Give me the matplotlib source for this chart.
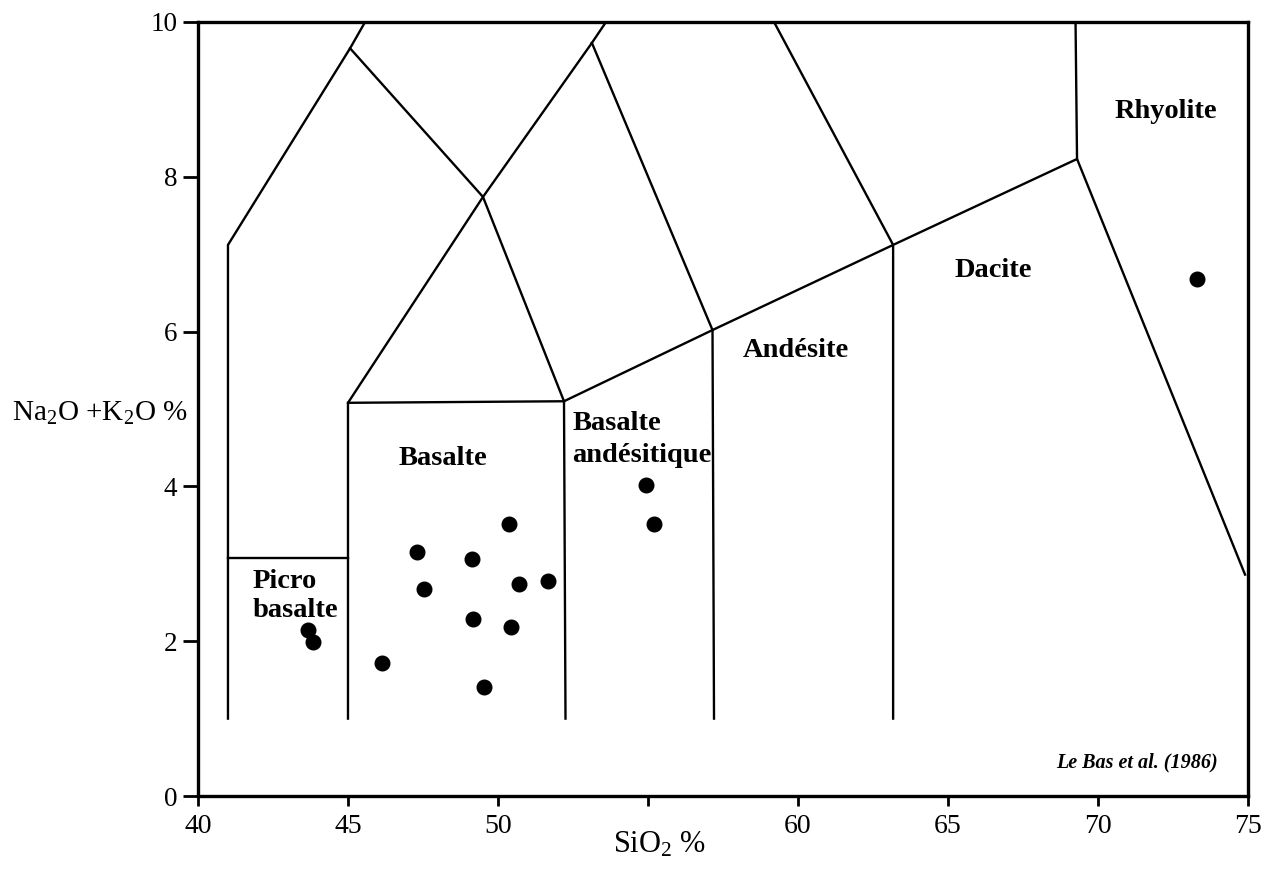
import matplotlib
matplotlib.use('Agg')
import matplotlib.pyplot as plt

plt.rcParams['font.family'] = ['Liberation Serif', 'DejaVu Serif']
plt.rcParams['mathtext.fontset'] = 'custom'
plt.rcParams['mathtext.rm'] = 'Liberation Serif'
plt.rcParams['mathtext.it'] = 'Liberation Serif:italic'

# Sample analyses (SiO2 %, Na2O + K2O %)
sio2 = [43.67, 43.83, 46.13, 47.30, 47.53, 49.13, 49.17, 49.53,
        50.37, 50.43, 50.70, 51.67, 54.93, 55.20, 73.30]
alkali = [2.14, 1.99, 1.72, 3.15, 2.67, 3.06, 2.29, 1.41,
          3.51, 2.18, 2.74, 2.78, 4.02, 3.51, 6.68]

# TAS field boundaries (Le Bas et al. 1986), as drawn in the figure
boundaries = [
    [(41.0, 1.0), (41.0, 7.12), (45.07, 9.66), (45.57, 10.0)],
    [(45.07, 9.66), (49.5, 7.74), (52.2, 5.1)],
    [(45.0, 1.0), (45.0, 5.08), (49.5, 7.74), (53.13, 9.73), (53.6, 10.0)],
    [(53.13, 9.73), (57.15, 6.02)],
    [(45.0, 5.08), (52.2, 5.1)],
    [(52.25, 1.0), (52.2, 5.1), (57.15, 6.02), (63.17, 7.12),
     (69.3, 8.23), (74.9, 2.86)],
    [(57.2, 1.0), (57.15, 6.02)],
    [(63.17, 1.0), (63.17, 7.12), (59.2, 10.0)],
    [(69.3, 8.23), (69.25, 10.0)],
    [(41.0, 3.08), (45.0, 3.08)],
]

# Field names: (text, x, y, horizontal alignment)
fields = [
    ('Rhyolite', 72.27, 8.76, 'center'),
    ('Dacite', 65.23, 6.70, 'left'),
    ('Andésite', 58.17, 5.67, 'left'),
    ('Basalte', 52.47, 4.73, 'left'),
    ('andésitique', 52.47, 4.32, 'left'),
    ('Basalte', 46.67, 4.28, 'left'),
    ('Picro', 41.83, 2.69, 'left'),
    ('basalte', 41.83, 2.31, 'left'),
]

xticks = [40, 45, 50, 55, 60, 65, 70, 75]
xtick_labels = ['40', '45', '50', '', '60', '65', '70', '75']
yticks = [0, 2, 4, 6, 8, 10]

fig = plt.figure(figsize=(12.65, 8.69), dpi=100)
ax = fig.add_axes([0.1565, 0.0840, 0.8301, 0.8907])

# Draw the field boundaries
for line in boundaries:
    xs = [p[0] for p in line]
    ys = [p[1] for p in line]
    ax.plot(xs, ys, color='black', linewidth=1.7, solid_joinstyle='miter')

# Plot the samples
ax.plot(sio2, alkali, 'o', color='black', markersize=10.5, linestyle='none')

# Field labels
for name, x, y, ha in fields:
    ax.text(x, y, name, fontsize=20.5, fontweight='bold', ha=ha, va='baseline')

ax.text(74.0, 0.37, 'Le Bas et al. (1986)', fontsize=14.5, fontstyle='italic',
        fontweight='bold', ha='right', va='baseline')

ax.set_xlim(40, 75)
ax.set_ylim(0, 10)
ax.set_xticks(xticks)
ax.set_xticklabels(xtick_labels)
ax.set_yticks(yticks)

for side in ['left', 'bottom', 'top', 'right']:
    ax.spines[side].set_linewidth(2.4)

ax.tick_params(axis='y', direction='out', length=11, width=2, labelsize=19.5, pad=4)
ax.tick_params(axis='x', direction='out', length=7, width=2, labelsize=20, pad=6)

# Axis titles
fig.text(660 / 1265, 1 - 845 / 869, 'SiO$_2$ %', fontsize=22, ha='center', va='center')
fig.text(12 / 1265, 1 - 413 / 869, 'Na$_2$O +K$_2$O %', fontsize=21, ha='left', va='center')

fig.savefig('out.png', dpi=100)
